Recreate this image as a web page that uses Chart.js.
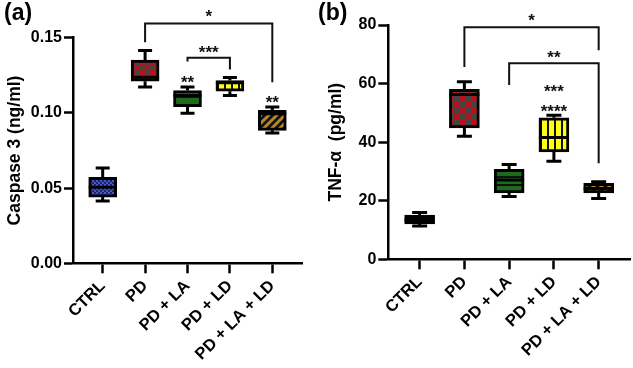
<!DOCTYPE html>
<html lang="en">
<head>
    <meta charset="UTF-8">
    <title>Caspase 3 and TNF-α box plots</title>
    <style>
        body { margin: 0; background: #fff; }
        .pannello { position: absolute; top: 0; height: 368px; }
        #wrapA { left: 0; width: 316px; }
        #wrapB { left: 316px; width: 317px; }
    </style>
</head>
<body>
    <div class="pannello" id="wrapA"><canvas id="chartA"></canvas></div>
    <div class="pannello" id="wrapB"><canvas id="chartB"></canvas></div>

    <script src="https://cdn.jsdelivr.net/npm/chart.js"></script>
    <script>
        const groups = ['CTRL', 'PD', 'PD + LA', 'PD + LD', 'PD + LA + LD'];

        // (a) Caspase 3 (ng/ml)
        const caspMin = [0.0415, 0.1173, 0.0997, 0.1115, 0.0867];
        const caspQ1  = [0.0440, 0.1211, 0.1042, 0.1144, 0.0884];
        const caspMed = [0.0505, 0.1237, 0.1115, 0.1200, 0.0995];
        const caspQ3  = [0.0571, 0.1351, 0.1149, 0.1215, 0.1017];
        const caspMax = [0.0633, 0.1415, 0.1173, 0.1235, 0.1040];
        const caspTicks = [0, 0.05, 0.10, 0.15];
        const caspBrackets = [
            { from: 1, to: 4, top: 0.1595, leftEnd: 0.1469, rightEnd: 0.1204 },
            { from: 2, to: 3, top: 0.1367, leftEnd: 0.1342, rightEnd: 0.1289 }
        ];
        const caspStars = [
            { x: 2.5, y: 0.1667, text: '*' },
            { x: 2.5, y: 0.1429, text: '***' },
            { x: 2, y: 0.1231, text: '**' },
            { x: 4, y: 0.1095, text: '**' }
        ];

        // (b) TNF-α (pg/ml)
        const tnfMin = [11.4, 42.0, 21.4, 33.5, 20.8];
        const tnfQ1  = [12.05, 44.9, 22.7, 36.7, 22.7];
        const tnfMed = [13.5, 56.3, 27.1, 41.6, 24.2];
        const tnfQ3  = [15.1, 58.0, 30.7, 48.3, 25.9];
        const tnfMax = [16.0, 60.6, 32.4, 49.2, 26.5];
        const tnfTicks = [0, 20, 40, 60, 80];
        const tnfBrackets = [
            { from: 1, to: 4, top: 79.2, leftEnd: 65.7, rightEnd: 71.4 },
            { from: 2, to: 4, top: 66.9, leftEnd: 59.5, rightEnd: 32.8 }
        ];
        const tnfStars = [
            { x: 2.5, y: 83.1, text: '*' },
            { x: 3, y: 70.3, text: '**' },
            { x: 3, y: 58.7, text: '***' },
            { x: 3, y: 51.9, text: '****' }
        ];

        const FONT = "'Liberation Sans', Arial, sans-serif";

        // motivi di riempimento
        function motivo(w, h, draw) {
            const c = document.createElement('canvas');
            c.width = w; c.height = h;
            const g = c.getContext('2d');
            draw(g, w, h);
            return g.createPattern(c, 'repeat');
        }
        const blu = motivo(4, 4, (g) => {
            g.fillStyle = '#1c2470'; g.fillRect(0, 0, 4, 4);
            g.fillStyle = '#4456c8'; g.fillRect(0, 0, 2, 2); g.fillRect(2, 2, 2, 2);
        });
        const scacchiA = motivo(10, 10, (g) => {
            g.fillStyle = '#444'; g.fillRect(0, 0, 10, 10);
            g.fillStyle = '#b5121b'; g.fillRect(0, 0, 5, 5); g.fillRect(5, 5, 5, 5);
        });
        const scacchiB = motivo(12, 12, (g) => {
            g.fillStyle = '#444'; g.fillRect(0, 0, 12, 12);
            g.fillStyle = '#b5121b'; g.fillRect(0, 0, 6, 6); g.fillRect(6, 6, 6, 6);
        });
        const verde = motivo(8, 8, (g) => {
            g.fillStyle = '#1b6b1b'; g.fillRect(0, 0, 8, 8);
            g.fillStyle = '#111'; g.fillRect(0, 0, 8, 2);
        });
        const giallo = motivo(7, 7, (g) => {
            g.fillStyle = '#ffff14'; g.fillRect(0, 0, 7, 7);
            g.fillStyle = '#111'; g.fillRect(0, 0, 2, 7);
        });
        const marrone = motivo(8, 8, (g) => {
            g.fillStyle = '#111'; g.fillRect(0, 0, 8, 8);
            g.strokeStyle = '#b8852e'; g.lineWidth = 3;
            g.beginPath();
            g.moveTo(-2, 10); g.lineTo(10, -2);
            g.moveTo(-6, 6); g.lineTo(6, -6);
            g.moveTo(2, 14); g.lineTo(14, 2);
            g.stroke();
        });

        // baffi, mediane, parentesi e asterischi
        function boxPlugin(cfg) {
            return {
                id: 'boxPlot',
                afterDatasetsDraw(chart) {
                    const { ctx } = chart;
                    const x = chart.scales.x, y = chart.scales.y;
                    ctx.save();
                    ctx.strokeStyle = '#000';
                    ctx.lineWidth = 3;
                    for (let i = 0; i < groups.length; i++) {
                        const px = x.getPixelForValue(i);
                        const pMin = y.getPixelForValue(cfg.min[i]);
                        const pMax = y.getPixelForValue(cfg.max[i]);
                        const pQ1 = y.getPixelForValue(cfg.q1[i]);
                        const pQ3 = y.getPixelForValue(cfg.q3[i]);
                        const pMed = y.getPixelForValue(cfg.med[i]);
                        ctx.beginPath();
                        ctx.moveTo(px, pQ3); ctx.lineTo(px, pMax);
                        ctx.moveTo(px, pQ1); ctx.lineTo(px, pMin);
                        ctx.moveTo(px - cfg.cap / 2, pMax); ctx.lineTo(px + cfg.cap / 2, pMax);
                        ctx.moveTo(px - cfg.cap / 2, pMin); ctx.lineTo(px + cfg.cap / 2, pMin);
                        ctx.moveTo(px - cfg.box / 2, pMed); ctx.lineTo(px + cfg.box / 2, pMed);
                        ctx.stroke();
                    }
                    ctx.lineWidth = 2;
                    ctx.strokeStyle = '#111';
                    cfg.brackets.forEach(b => {
                        const x1 = x.getPixelForValue(b.from), x2 = x.getPixelForValue(b.to);
                        const yt = y.getPixelForValue(b.top);
                        ctx.beginPath();
                        ctx.moveTo(x1, y.getPixelForValue(b.leftEnd));
                        ctx.lineTo(x1, yt); ctx.lineTo(x2, yt);
                        ctx.lineTo(x2, y.getPixelForValue(b.rightEnd));
                        ctx.stroke();
                    });
                    ctx.fillStyle = '#111';
                    ctx.textAlign = 'center';
                    ctx.textBaseline = 'alphabetic';
                    ctx.font = 'bold 17px ' + FONT;
                    cfg.stars.forEach(s => {
                        ctx.fillText(s.text, x.getPixelForValue(s.x), y.getPixelForValue(s.y) + 0.57 * 17);
                    });
                    ctx.fillStyle = '#000';
                    ctx.textAlign = 'left';
                    ctx.font = 'bold 23px ' + FONT;
                    ctx.fillText(cfg.label, cfg.labelX, 20);
                    ctx.restore();
                }
            };
        }

        function creaGrafico(id, cfg) {
            const ctx = document.getElementById(id).getContext('2d');
            return new Chart(ctx, {
                type: 'bar',
                data: {
                    datasets: [{
                        data: groups.map((g, i) => ({ x: i, y: [cfg.q1[i], cfg.q3[i]] })),
                        backgroundColor: cfg.fills,
                        borderColor: '#000',
                        borderWidth: 3,
                        borderSkipped: false,
                        barThickness: cfg.box
                    }]
                },
                options: {
                    responsive: true,
                    maintainAspectRatio: false,
                    animation: false,
                    layout: { padding: cfg.padding },
                    plugins: { legend: { display: false }, tooltip: { enabled: false } },
                    scales: {
                        x: {
                            type: 'linear',
                            min: -0.7,
                            max: 4.7,
                            offset: false,
                            afterBuildTicks: s => { s.ticks = groups.map((g, i) => ({ value: i })); },
                            afterFit: s => { s.height = cfg.xHeight; },
                            grid: { offset: false, drawOnChartArea: false, tickLength: 10, tickWidth: 2.5, tickColor: '#000' },
                            border: { color: '#000', width: 2.5 },
                            ticks: {
                                autoSkip: false,
                                minRotation: 45,
                                maxRotation: 45,
                                padding: 3,
                                color: '#000',
                                font: { family: FONT, size: 16.5, weight: 'bold' },
                                callback: v => groups[v]
                            }
                        },
                        y: {
                            min: cfg.ticks[0],
                            max: cfg.ticks[cfg.ticks.length - 1],
                            afterBuildTicks: s => { s.ticks = cfg.ticks.map(v => ({ value: v })); },
                            afterFit: s => { s.width = cfg.yWidth; },
                            grid: { drawOnChartArea: false, tickLength: cfg.yTick, tickWidth: 2.5, tickColor: '#000' },
                            border: { color: '#000', width: 2.5 },
                            ticks: {
                                padding: 2,
                                color: '#000',
                                font: { family: FONT, size: 16, weight: 'bold' },
                                callback: cfg.fmt
                            },
                            title: {
                                display: true,
                                text: cfg.title,
                                color: '#000',
                                padding: { top: cfg.titlePad, bottom: 0 },
                                font: { family: FONT, size: 17.5, weight: 'bold' }
                            }
                        }
                    }
                },
                plugins: [boxPlugin(cfg)]
            });
        }

        creaGrafico('chartA', {
            min: caspMin, q1: caspQ1, med: caspMed, q3: caspQ3, max: caspMax,
            ticks: caspTicks, brackets: caspBrackets, stars: caspStars,
            fills: [blu, scacchiA, verde, giallo, marrone],
            fmt: v => v.toFixed(2),
            title: 'Caspase 3 (ng/ml)',
            label: '(a)', labelX: 4,
            box: 28, cap: 14,
            padding: { top: 37.7, right: 14, left: 0, bottom: 0 },
            xHeight: 104.7, yWidth: 73, yTick: 9, titlePad: 4.5
        });

        creaGrafico('chartB', {
            min: tnfMin, q1: tnfQ1, med: tnfMed, q3: tnfQ3, max: tnfMax,
            ticks: tnfTicks, brackets: tnfBrackets, stars: tnfStars,
            fills: ['#0a0a0a', scacchiB, verde, giallo, marrone],
            fmt: v => String(v),
            title: 'TNF-α  (pg/ml)',
            label: '(b)', labelX: 2,
            box: 30, cap: 15,
            padding: { top: 25, right: 3, left: 0, bottom: 0 },
            xHeight: 108.7, yWidth: 72.3, yTick: 10, titlePad: 10
        });
    </script>
</body>
</html>
